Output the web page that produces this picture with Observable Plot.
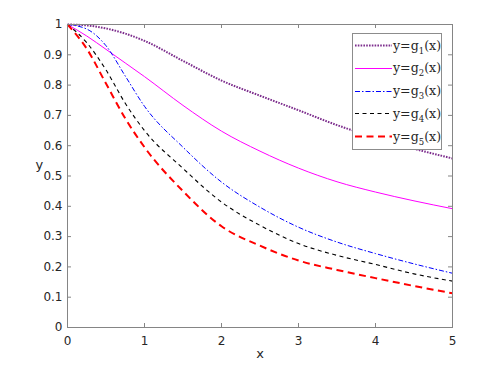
<!DOCTYPE html>
<html>
<head>
<meta charset="utf-8">
<script src="https://cdn.jsdelivr.net/npm/d3@7"></script>
<script src="https://cdn.jsdelivr.net/npm/@observablehq/plot@0.6"></script>
<style>
  html, body { margin: 0; padding: 0; background: #fff; }
  #wrap { position: relative; width: 480px; height: 369px; }
  #legend { position: absolute; left: 352px; top: 33px; width: 90px; height: 117px;
    border: 1px solid #8c8c8c; background: #fff; box-sizing: border-box; }
  .row { position: absolute; left: 2px; height: 20px; display: flex; align-items: center; }
  .row svg { display: block; }
  .lab { font-family: "DejaVu Serif", "Liberation Serif", serif; font-size: 12.6px; color: #262626; margin-left: 1px; white-space: nowrap; }
  .lab sub { font-size: 8.5px; vertical-align: -3.5px; line-height: 0; }
</style>
</head>
<body>
<div id="wrap"></div>
<script>
// ---- data ----
const xs = [0, 0.25, 0.5, 0.75, 1, 1.5, 2, 2.5, 3, 3.5, 4, 4.5, 5];
const g1 = [1, 0.997, 0.987, 0.970, 0.946, 0.880, 0.815, 0.765, 0.717, 0.668, 0.627, 0.590, 0.558];
const g2 = [1, 0.962, 0.918, 0.873, 0.828, 0.733, 0.648, 0.582, 0.526, 0.481, 0.447, 0.418, 0.392];
const g3 = [1, 0.985, 0.930, 0.830, 0.730, 0.595, 0.480, 0.397, 0.331, 0.282, 0.244, 0.210, 0.179];
const g4 = [1, 0.940, 0.850, 0.740, 0.650, 0.525, 0.414, 0.337, 0.277, 0.238, 0.208, 0.177, 0.153];
const g5 = [1, 0.920, 0.805, 0.690, 0.595, 0.450, 0.334, 0.270, 0.221, 0.190, 0.163, 0.137, 0.113];
const seriesNames = ["g1", "g2", "g3", "g4", "g5"];
const seriesSubs = ["1", "2", "3", "4", "5"];
const xTicks = [0, 1, 2, 3, 4, 5];
const xTickLabels = ["0", "1", "2", "3", "4", "5"];
const yTicks = [0, 0.1, 0.2, 0.3, 0.4, 0.5, 0.6, 0.7, 0.8, 0.9, 1];
const yTickLabels = ["0", "0.1", "0.2", "0.3", "0.4", "0.5", "0.6", "0.7", "0.8", "0.9", "1"];

// styles
const styles = [
  {stroke: "#7E2F8E", width: 2, dash: "1.6,1.2"},
  {stroke: "#FF00FF", width: 1, dash: null},
  {stroke: "#0000FF", width: 1, dash: "5,2,1.5,2"},
  {stroke: "#000000", width: 1.1, dash: "4,3.5"},
  {stroke: "#FF0000", width: 2, dash: "7,4.5"}
];

const allSeries = [g1, g2, g3, g4, g5];
const rows = [];
allSeries.forEach((arr, i) => arr.forEach((v, j) => rows.push({x: xs[j], y: v, s: seriesNames[i]})));

const W = 480, H = 369;
const mL = 67, mR = 28, mT = 24, mB = 42;
const fw = W - mL - mR, fh = H - mT - mB;
const axisCol = "#858585";
const tickLen = 4;
const font = "'DejaVu Sans', 'Liberation Sans', Arial, sans-serif";

const lineMarks = seriesNames.map((name, i) =>
  Plot.line(rows.filter(d => d.s === name), {
    x: "x", y: "y", curve: "monotone-x",
    stroke: styles[i].stroke, strokeWidth: styles[i].width,
    strokeDasharray: styles[i].dash, strokeLinecap: "butt"
  })
);

const chart = Plot.plot({
  width: W, height: H,
  marginLeft: mL, marginRight: mR, marginTop: mT, marginBottom: mB,
  style: {fontFamily: font, fontSize: "12px", color: "#262626", background: "#fff"},
  x: {domain: [0, 5]},
  y: {domain: [0, 1]},
  marks: [
    ...lineMarks,
    Plot.frame({stroke: axisCol, strokeWidth: 1}),
    // inward ticks on all four sides
    Plot.tickX(xTicks, {x: d => d, insetTop: fh - tickLen, stroke: axisCol}),
    Plot.tickX(xTicks, {x: d => d, insetBottom: fh - tickLen, stroke: axisCol}),
    Plot.tickY(yTicks, {y: d => d, insetRight: fw - tickLen, stroke: axisCol}),
    Plot.tickY(yTicks, {y: d => d, insetLeft: fw - tickLen, stroke: axisCol}),
    Plot.axisX({ticks: xTicks, tickSize: 0, tickPadding: 9, tickFormat: (d) => xTickLabels[xTicks.indexOf(d)],
      label: null, fill: "#262626", fontSize: 12}),
    Plot.axisY({ticks: yTicks, tickSize: 0, tickPadding: 5, tickFormat: (d) => yTickLabels[yTicks.indexOf(d)],
      label: null, fill: "#262626", fontSize: 12}),
    Plot.text(["x"], {frameAnchor: "bottom", dy: 30, fill: "#262626", fontSize: 13}),
    Plot.text(["y"], {frameAnchor: "left", dx: -32, dy: -11, fill: "#262626", fontSize: 13})
  ]
});

const wrap = document.getElementById("wrap");
wrap.appendChild(chart);

// legend overlay
const legend = document.createElement("div");
legend.id = "legend";
seriesNames.forEach((name, i) => {
  const row = document.createElement("div");
  row.className = "row";
  row.style.top = (1 + i * 22.8) + "px";
  const st = styles[i];
  row.innerHTML = `<svg width="37" height="20"><line x1="0" y1="10.5" x2="37" y2="10.5" stroke="${st.stroke}" stroke-width="${st.width}" ${st.dash ? `stroke-dasharray="${st.dash}"` : ""}/></svg><span class="lab">y=g<sub>${seriesSubs[i]}</sub>(x)</span>`;
  legend.appendChild(row);
});
wrap.appendChild(legend);
</script>
</body>
</html>
